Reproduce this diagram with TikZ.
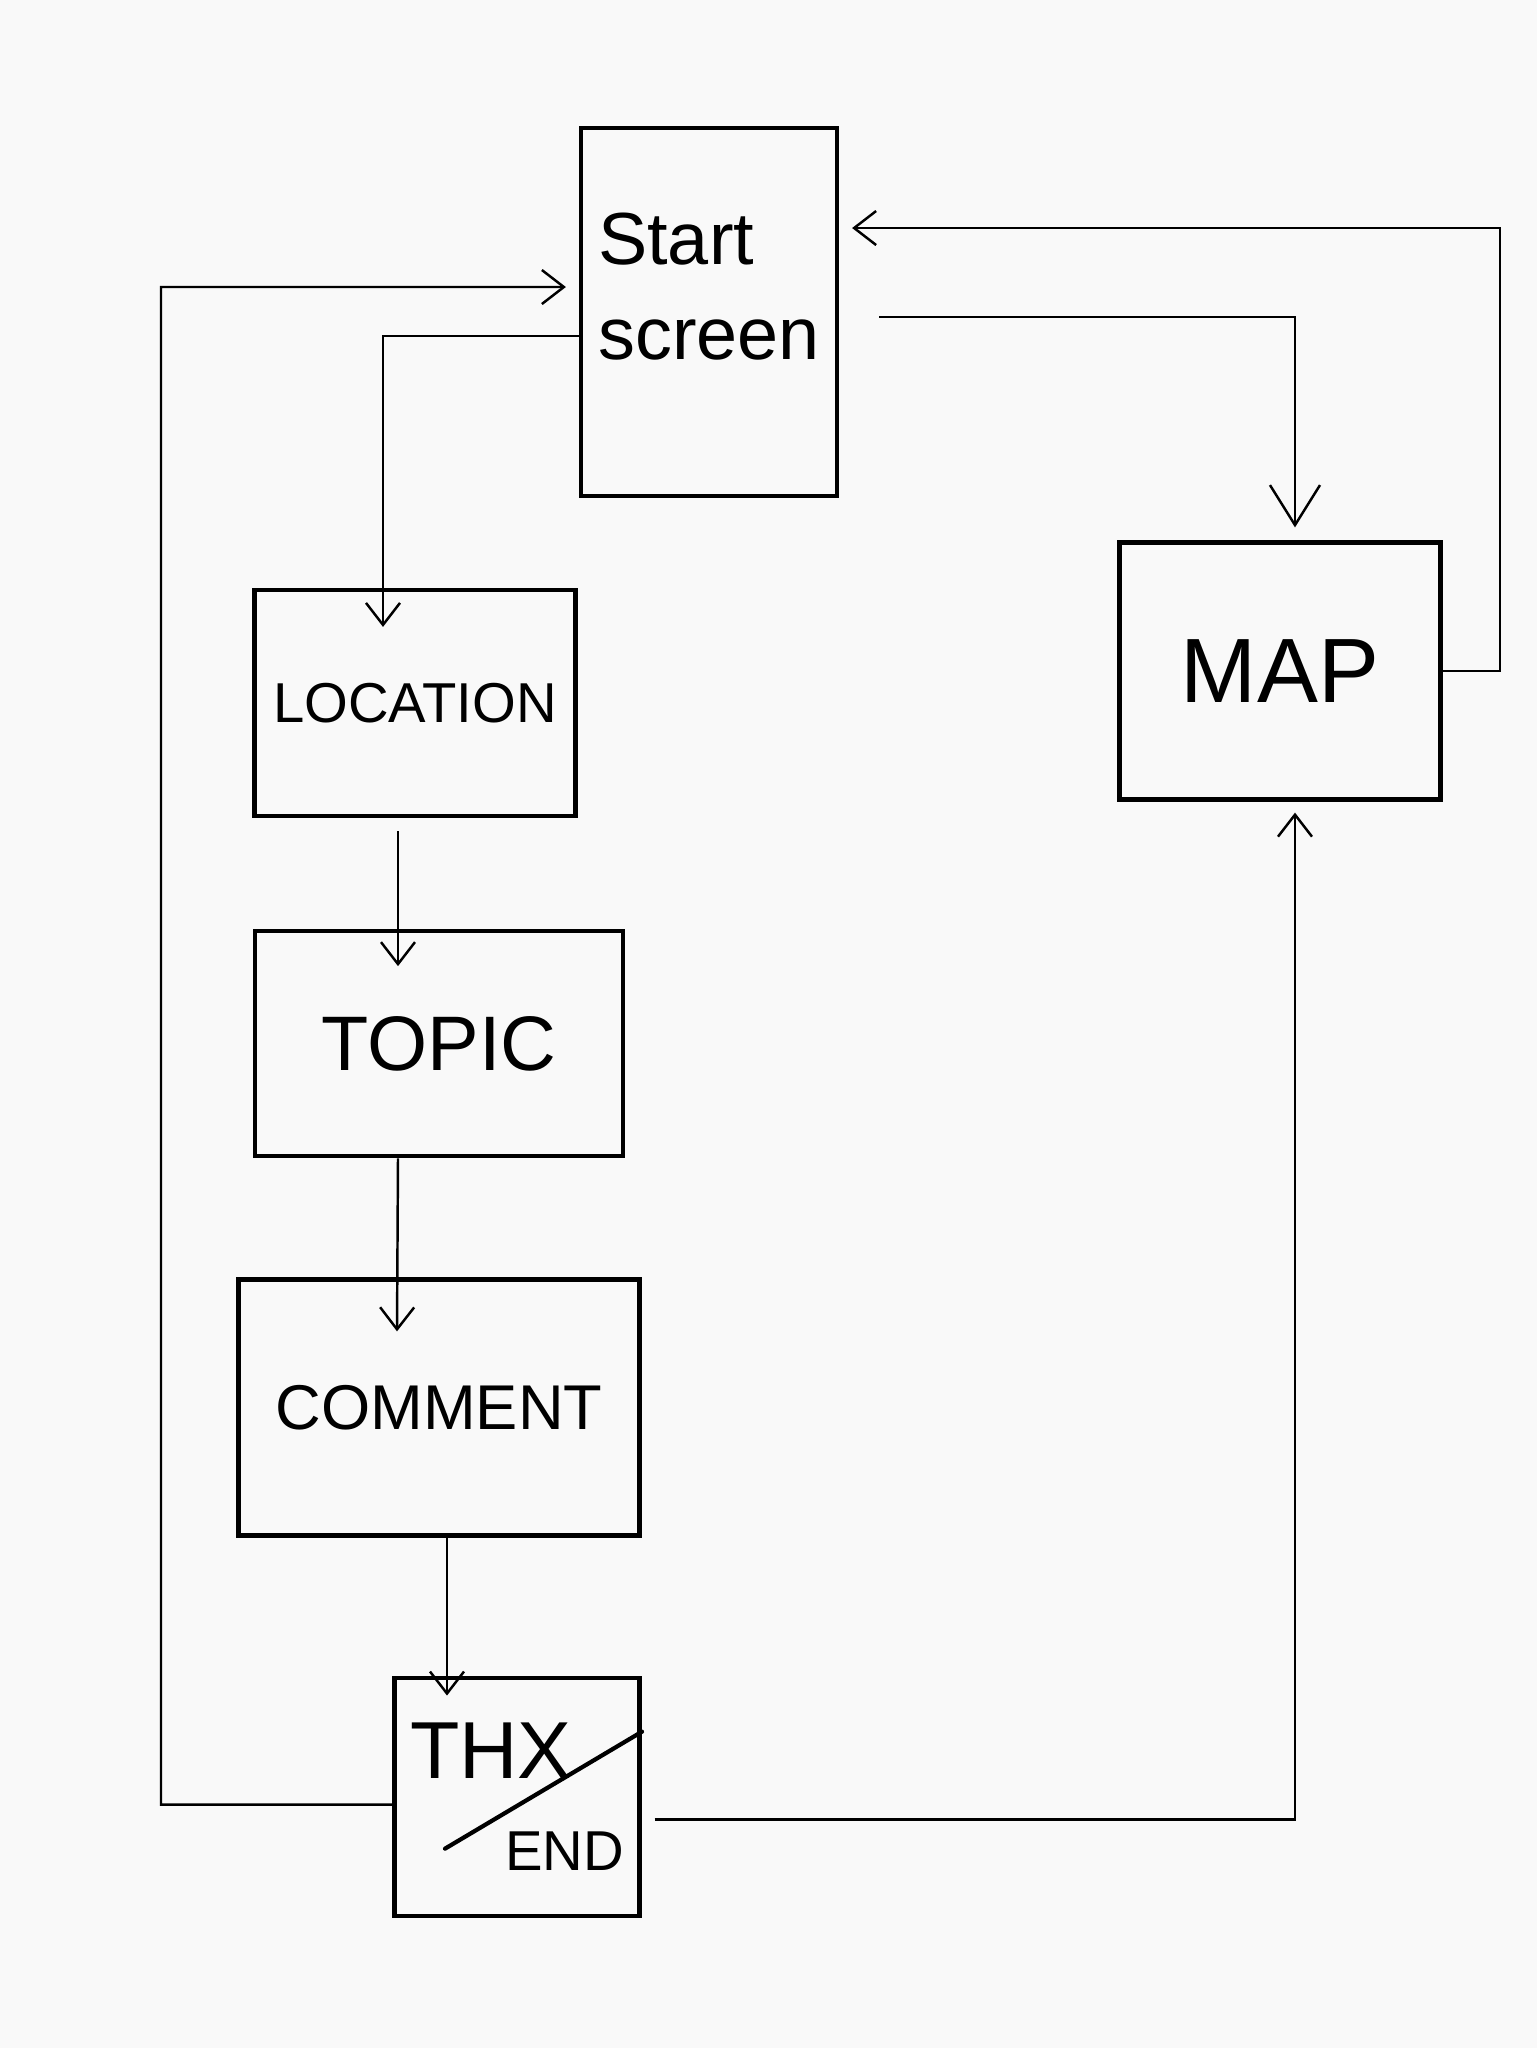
\documentclass[tikz,border=0pt]{standalone}
\usepackage{fontspec}
\setmainfont{Liberation Sans}
\usetikzlibrary{arrows.meta,positioning}
\definecolor{paper}{RGB}{249,249,249}

\begin{document}
\begin{tikzpicture}[
  box/.style={draw, line width=1.2pt, inner sep=0pt, align=center},
  lbl/.style={font=\fontsize{21}{27}\selectfont, align=left},
  arr/.style={-{Straight Barb[length=2.2mm,width=3.4mm]}, line width=0.7pt},
  bigarr/.style={-{Straight Barb[length=4mm,width=5mm]}, line width=0.7pt},
  strike/.style={line width=1.2pt, line cap=round}
]
\fill[paper] (0,0) rectangle (15.37,-20.48);
\useasboundingbox (0,0) rectangle (15.37,-20.48);

% screens
\node[box, minimum width=2.56cm, minimum height=3.68cm] (start) at (7.09,-3.12) {};
\node[lbl, below=0.75cm of start.north] (startlbl) {Start\\screen};
\node[box, minimum width=3.21cm, minimum height=2.57cm, font=\fontsize{26}{30}\selectfont] (map) at (12.80,-6.71) {MAP};
\node[box, minimum width=3.21cm, minimum height=2.26cm, font=\fontsize{16}{20}\selectfont] (location) at (4.15,-7.03) {LOCATION};
\node[box, minimum width=3.68cm, minimum height=2.25cm, font=\fontsize{22}{26}\selectfont,
  below=1.11cm of location, xshift=0.24cm] (topic) {TOPIC};
\node[box, minimum width=4.01cm, minimum height=2.56cm, font=\fontsize{18}{22}\selectfont,
  below=1.19cm of topic] (comment) {COMMENT};
\node[box, minimum width=2.45cm, minimum height=2.38cm, font=\fontsize{23}{26}\selectfont, align=left,
  below=1.38cm of comment, xshift=0.78cm] (thx) {THX\\\hspace*{0.95cm}{\fontsize{16}{20}\selectfont END}};
\draw[strike] ([shift={(-0.72,-0.52)}]thx.center) -- ([shift={(1.25,0.65)}]thx.center);

% flow
\draw[arr] ([yshift=-0.24cm]start.west) -| ([xshift=-0.32cm,yshift=-0.39cm]location.north);
\draw[bigarr] ([xshift=4mm,yshift=-0.05cm]start.east) -| ([xshift=0.15cm,yshift=0.13cm]map.north);
\draw[arr] (map.east) -| (15.00,-2.28) -- ([xshift=1.3mm,yshift=0.84cm]start.east);
\draw[arr] ([xshift=-0.17cm,yshift=-0.13cm]location.south) -- ([xshift=-0.41cm,yshift=-0.37cm]topic.north);
\draw[arr] ([xshift=-0.41cm]topic.south) -- ([xshift=-0.42cm,yshift=-0.54cm]comment.north);
\draw[arr] ([xshift=0.08cm]comment.south) -- ([xshift=-0.70cm,yshift=-0.20cm]thx.north);
\draw[arr] ([yshift=-0.08cm]thx.west) -| (1.61,-2.87) -- ([xshift=-1.3mm,yshift=0.25cm]start.west);
\draw[arr] ([xshift=1.3mm,yshift=-0.23cm]thx.east) -| ([xshift=0.15cm,yshift=-0.11cm]map.south);
\end{tikzpicture}
\end{document}
